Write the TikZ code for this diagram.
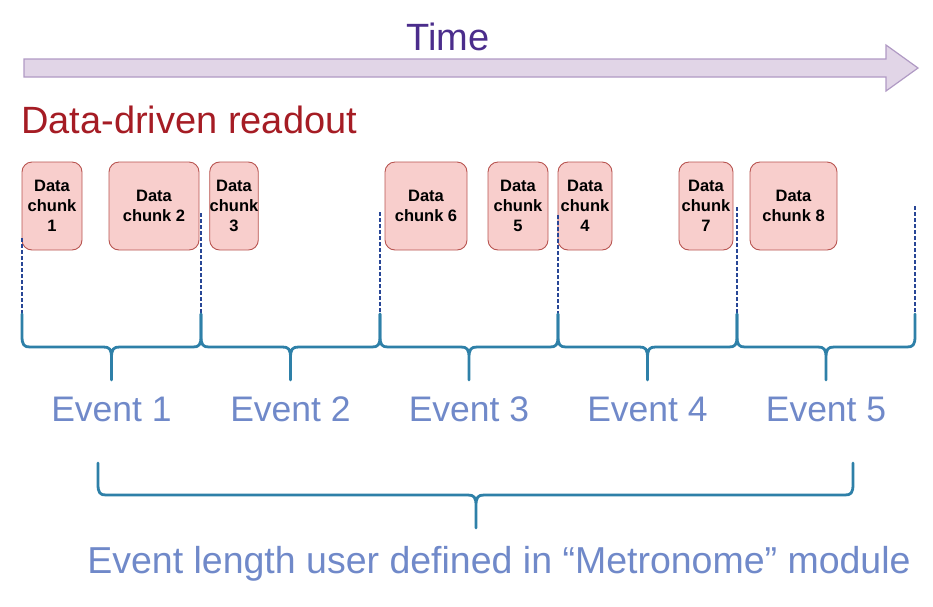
\documentclass[tikz,border=0pt]{standalone}
\usepackage{fontspec}
\setmainfont{Liberation Sans}
\usetikzlibrary{positioning}
\definecolor{arrowfill}{RGB}{225,213,231}
\definecolor{arrowline}{RGB}{176,154,196}
\definecolor{timecol}{RGB}{75,45,140}
\definecolor{readoutcol}{RGB}{165,28,36}
\definecolor{chunkfill}{RGB}{248,206,204}
\definecolor{chunkline}{RGB}{184,84,80}
\definecolor{bracecol}{RGB}{46,128,168}
\definecolor{dashcol}{RGB}{40,70,150}
\definecolor{eventcol}{RGB}{112,137,201}
\tikzstyle{timearrow} = [fill=arrowfill,draw=arrowline,line width=1.2pt]
\tikzstyle{chunk} = [draw=chunkline,fill=chunkfill,rounded corners=10pt,line width=0.9pt,
	minimum height=88pt,inner sep=0pt,align=center,font=\fontsize{16.5}{20}\selectfont\bfseries]
\tikzstyle{boundary} = [dashcol,line width=1.5pt,dash pattern=on 4pt off 2pt]
\tikzstyle{evbrace} = [bracecol,line width=2.8pt,line join=round,line cap=round]
\tikzstyle{biglabel} = [inner sep=0pt,anchor=base,font=\fontsize{35.5}{40}\selectfont]

\begin{document}
\begin{tikzpicture}[x=1pt,y=-1pt]
	\useasboundingbox (0,0) rectangle (933,606);
	
	% time axis
	\draw[timearrow] (24,59) -- (886,59) -- (886,45) -- (918,68) -- (886,91) -- (886,77) -- (24,77) -- cycle;
	\node[biglabel,text=timecol,font=\fontsize{38}{44}\selectfont] (time) at (448,50) {Time};
	\node[biglabel,text=readoutcol,anchor=base west,font=\fontsize{38}{44}\selectfont] (readout) at (21,133) {Data-driven readout};
	
	% data chunks
	\node[chunk,minimum width=60pt] (c1) at (52,206) {Data\\chunk\\1};
	\node[chunk,minimum width=90pt] (c2) at (154,206) {Data\\chunk 2};
	\node[chunk,minimum width=48pt] (c3) at (234,206) {Data\\chunk\\3};
	\node[chunk,minimum width=82pt] (c6) at (426,206) {Data\\chunk 6};
	\node[chunk,minimum width=60pt] (c5) at (518,206) {Data\\chunk\\5};
	\node[chunk,minimum width=54pt] (c4) at (585,206) {Data\\chunk\\4};
	\node[chunk,minimum width=54pt] (c7) at (706,206) {Data\\chunk\\7};
	\node[chunk,minimum width=87pt] (c8) at (793.5,206) {Data\\chunk 8};
	
	% event boundaries
	\foreach \x/\ytop [count=\i from 0] in {22/238, 201/213, 380/212, 558/215, 737/207, 915/206} {
		\coordinate (top\i) at (\x,\ytop);
		\coordinate (bot\i) at (\x,314);
		\draw[boundary] (top\i) -- (bot\i);
	}
	
	% one brace per event
	\foreach \xa/\xb [count=\i] in {22/201, 201/380, 380/558, 558/737, 737/915} {
		\pgfmathsetmacro\xm{(\xa+\xb)/2}
		\coordinate (tip\i) at (\xm,380);
		\draw[evbrace] (\xa,314) -- (\xa,336) .. controls (\xa,345) and (\xa+2,347) .. (\xa+8,347)
			-- (\xm-8,347) .. controls (\xm-2,347) and (\xm,349) .. (\xm,358) -- (tip\i)
			-- (\xm,358) .. controls (\xm,349) and (\xm+2,347) .. (\xm+8,347)
			-- (\xb-8,347) .. controls (\xb-2,347) and (\xb,345) .. (\xb,336) -- (\xb,314);
		\node[biglabel,text=eventcol] (ev\i) at (\xm,421) {Event \i};
	}
	
	% metronome brace
	\coordinate (mtip) at (476,528);
	\draw[evbrace] (98,463) -- (98,484) .. controls (98,493) and (100,495) .. (106,495)
		-- (468,495) .. controls (474,495) and (476,497) .. (476,506) -- (mtip)
		-- (476,506) .. controls (476,497) and (478,495) .. (484,495)
		-- (845,495) .. controls (851,495) and (853,493) .. (853,484) -- (853,463);
	\node[biglabel,text=eventcol,font=\fontsize{37.5}{44}\selectfont] (metro) at (499,573) {Event length user defined in “Metronome” module};
\end{tikzpicture}
\end{document}
